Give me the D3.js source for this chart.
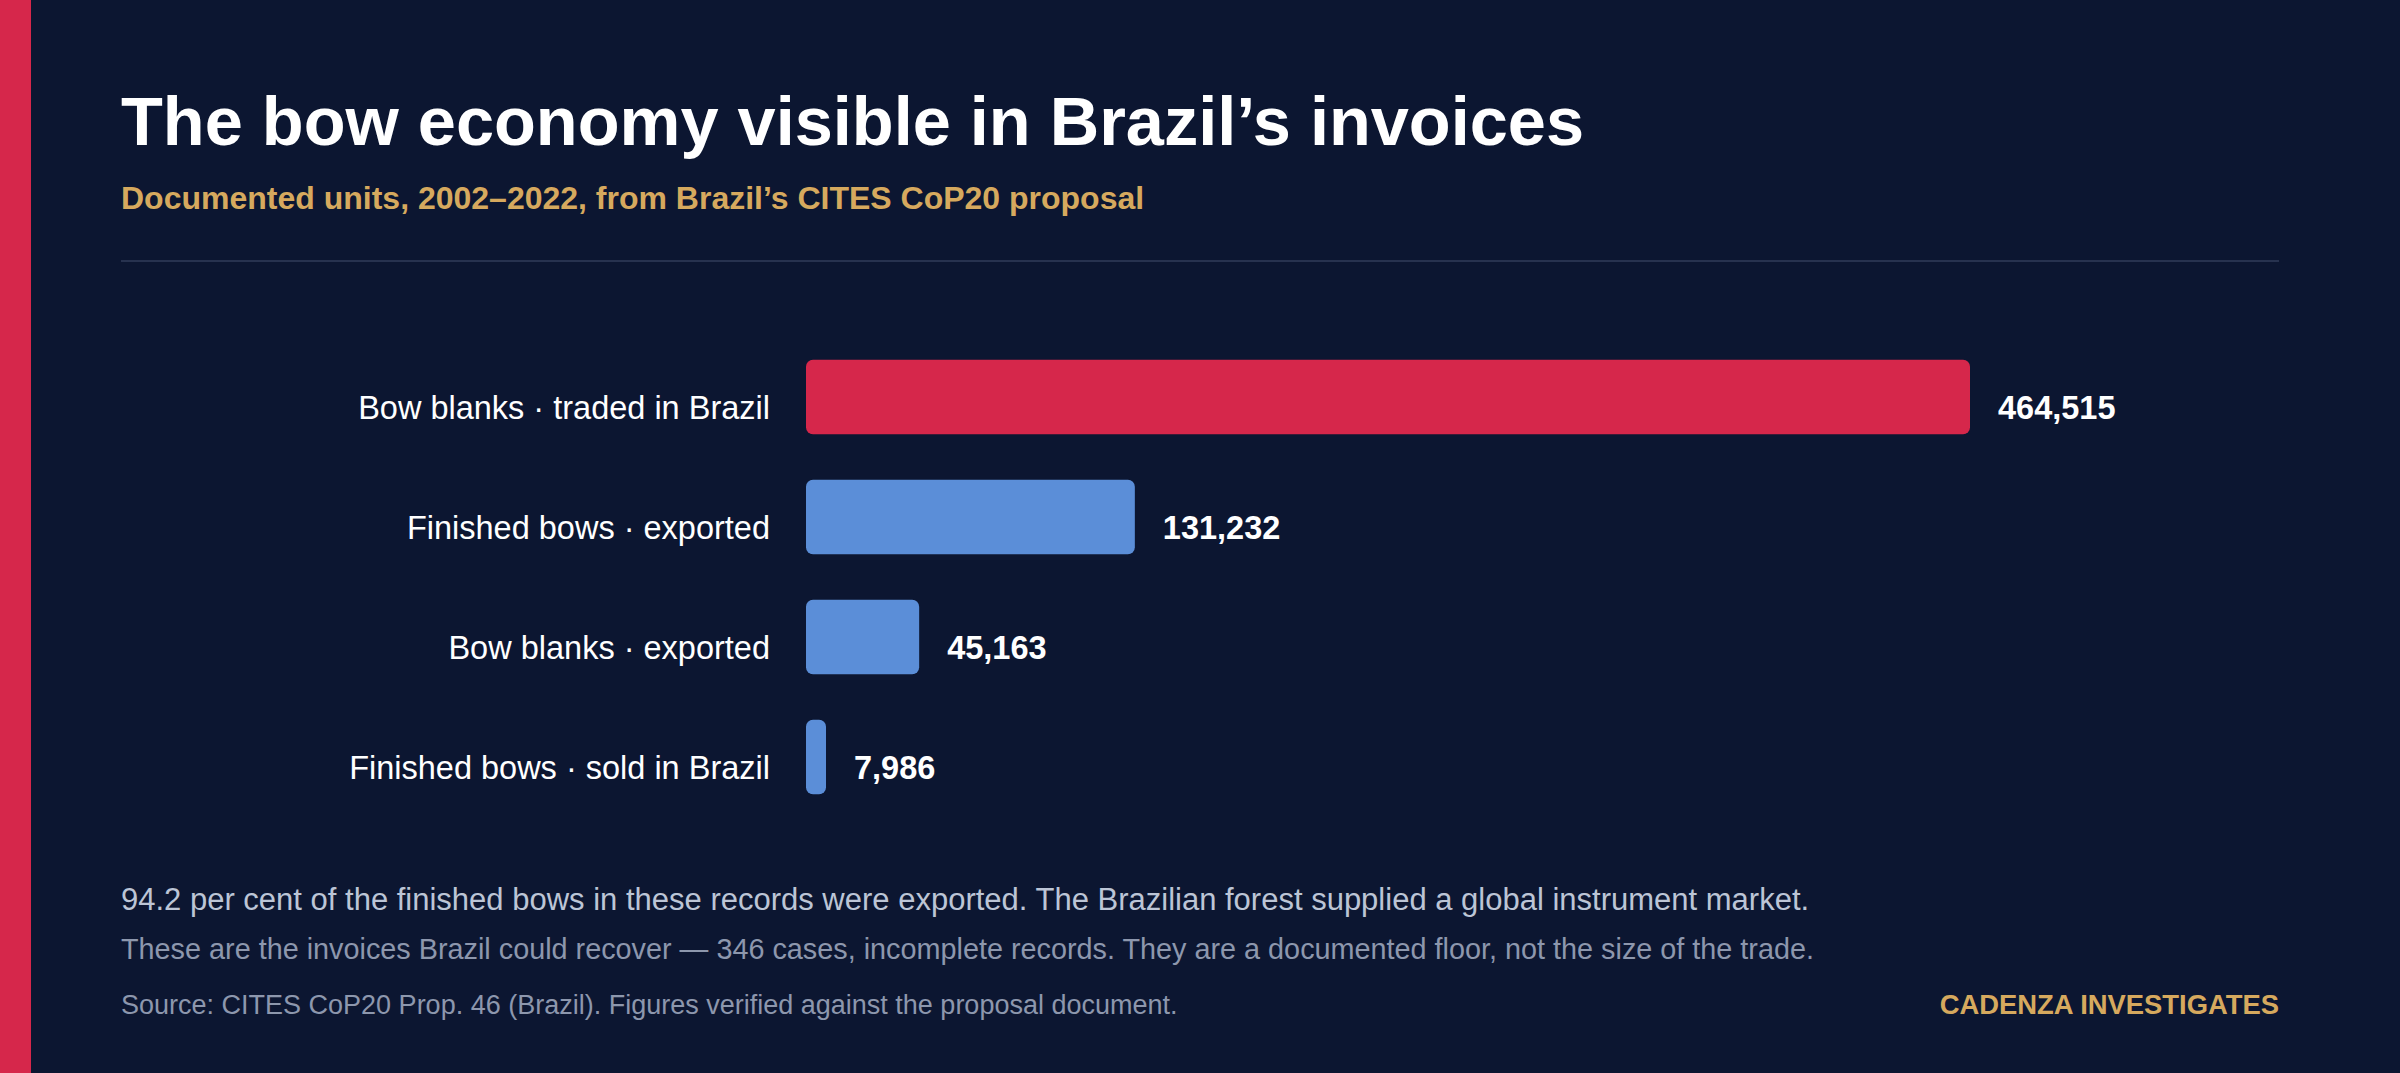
<!DOCTYPE html>
<html>
<head>
<meta charset="utf-8">
<script src="https://cdn.jsdelivr.net/npm/d3@7"></script>
<style>
  html, body { margin: 0; padding: 0; background: #0c1631; }
  svg { display: block; font-family: "Liberation Sans", Arial, sans-serif; }
</style>
</head>
<body>
<svg id="chart" width="2400" height="1073"></svg>
<script>
// data
var categories = [
  'Bow blanks \u00b7 traded in Brazil',
  'Finished bows \u00b7 exported',
  'Bow blanks \u00b7 exported',
  'Finished bows \u00b7 sold in Brazil'
];
var units = [464515, 131232, 45163, 7986];
var barColors = ['#d6274b', '#5b8ed8', '#5b8ed8', '#5b8ed8'];

var W = 2400, H = 1073;
var svg = d3.select('#chart');

svg.append('rect').attr('width', W).attr('height', H).attr('fill', '#0c1631');
svg.append('rect').attr('width', 31).attr('height', H).attr('fill', '#d6274b');

svg.append('text').attr('x', 121).attr('y', 145)
  .attr('fill', '#ffffff').attr('font-size', 68.5).attr('font-weight', 700)
  .text('The bow economy visible in Brazil\u2019s invoices');

svg.append('text').attr('x', 121).attr('y', 209)
  .attr('fill', '#d6a95e').attr('font-size', 32).attr('font-weight', 700)
  .text('Documented units, 2002\u20132022, from Brazil\u2019s CITES CoP20 proposal');

svg.append('line').attr('x1', 121).attr('x2', 2279).attr('y1', 261).attr('y2', 261)
  .attr('stroke', '#27324f').attr('stroke-width', 2);

// scales
var x = d3.scaleLinear().domain([0, d3.max(units)]).range([806, 1970]);
var y = d3.scaleBand().domain(categories).range([336, 816]).paddingInner(0.38).paddingOuter(0.19);

var rows = svg.append('g').selectAll('g').data(categories).enter().append('g');

rows.append('rect')
  .attr('x', x(0))
  .attr('y', function (d) { return y(d) + 1; })
  .attr('width', function (d, i) { return x(units[i]) - x(0); })
  .attr('height', y.bandwidth())
  .attr('rx', 7)
  .attr('fill', function (d, i) { return barColors[i]; });

rows.append('text')
  .attr('x', 770)
  .attr('y', function (d) { return y(d) + y.bandwidth() / 2 + 12; })
  .attr('dy', '0.35em')
  .attr('text-anchor', 'end')
  .attr('fill', '#ffffff').attr('font-size', 32.5)
  .text(function (d) { return d; });

rows.append('text')
  .attr('x', function (d, i) { return x(units[i]) + 28; })
  .attr('y', function (d) { return y(d) + y.bandwidth() / 2 + 12; })
  .attr('dy', '0.35em')
  .attr('fill', '#ffffff').attr('font-size', 32.5).attr('font-weight', 700)
  .text(function (d, i) { return d3.format(',')(units[i]); });

svg.append('text').attr('x', 121).attr('y', 910)
  .attr('fill', '#bcc5d6').attr('font-size', 31)
  .text('94.2 per cent of the finished bows in these records were exported. The Brazilian forest supplied a global instrument market.');

svg.append('text').attr('x', 121).attr('y', 959)
  .attr('fill', '#8d97ad').attr('font-size', 28.8)
  .text('These are the invoices Brazil could recover \u2014 346 cases, incomplete records. They are a documented floor, not the size of the trade.');

svg.append('text').attr('x', 121).attr('y', 1014)
  .attr('fill', '#8d97ad').attr('font-size', 27)
  .text('Source: CITES CoP20 Prop. 46 (Brazil). Figures verified against the proposal document.');

svg.append('text').attr('x', 2279).attr('y', 1014).attr('text-anchor', 'end')
  .attr('fill', '#d6a95e').attr('font-size', 27.4).attr('font-weight', 700)
  .text('CADENZA INVESTIGATES');
</script>
</body>
</html>
